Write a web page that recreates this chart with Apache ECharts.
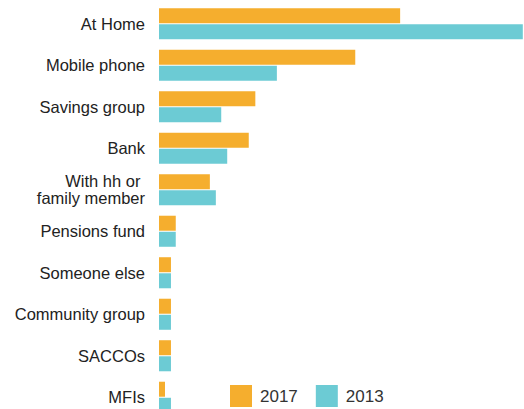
<!DOCTYPE html>
<html>
<head>
<meta charset="utf-8">
<script src="https://cdn.jsdelivr.net/npm/echarts@6/dist/echarts.min.js"></script>
<style>
  html, body { margin: 0; padding: 0; background: #fff; }
  #chart { width: 524px; height: 409px; }
</style>
</head>
<body>
<div id="chart"></div>
<script>
const categories = ['At Home', 'Mobile phone', 'Savings group', 'Bank', 'With hh or \nfamily member',
    'Pensions fund', 'Someone else', 'Community group', 'SACCOs', 'MFIs'];
const values2017 = [40.3, 32.8, 16.1, 15.0, 8.5, 2.8, 2, 2, 2, 1];
const values2013 = [60.8, 19.7, 10.4, 11.4, 9.5, 2.8, 2, 2, 2, 2];

const chart = echarts.init(document.getElementById('chart'), null, { renderer: 'svg' });

chart.setOption({
    animation: false,
    grid: {
        left: 159,
        right: 0,
        top: 3,
        bottom: -9,
        containLabel: false,
        outerBoundsMode: 'none'
    },
    legend: {
        left: 230,
        top: 385,
        padding: 0,
        itemWidth: 22,
        itemHeight: 22,
        itemGap: 18,
        icon: 'rect',
        textStyle: {
            fontFamily: 'Liberation Sans',
            fontSize: 17,
            color: '#333',
            padding: [0, 0, 0, 3]
        },
        data: ['2017', '2013']
    },
    xAxis: {
        type: 'value',
        min: 0,
        max: 61,
        show: false
    },
    yAxis: {
        type: 'category',
        inverse: true,
        data: categories,
        axisLine: { show: false },
        axisTick: { show: false },
        splitLine: { show: false },
        axisLabel: {
            margin: 14,
            fontFamily: 'Liberation Sans',
            fontSize: 16.5,
            lineHeight: 17,
            color: '#222',
            padding: [4, 0, 0, 0]
        }
    },
    series: [
        {
            name: '2017',
            type: 'bar',
            data: values2017,
            barWidth: 15,
            barGap: '7%',
            itemStyle: { color: '#F5AE2E' }
        },
        {
            name: '2013',
            type: 'bar',
            data: values2013,
            barWidth: 15,
            itemStyle: { color: '#6CCBD4' }
        }
    ]
});
</script>
</body>
</html>
